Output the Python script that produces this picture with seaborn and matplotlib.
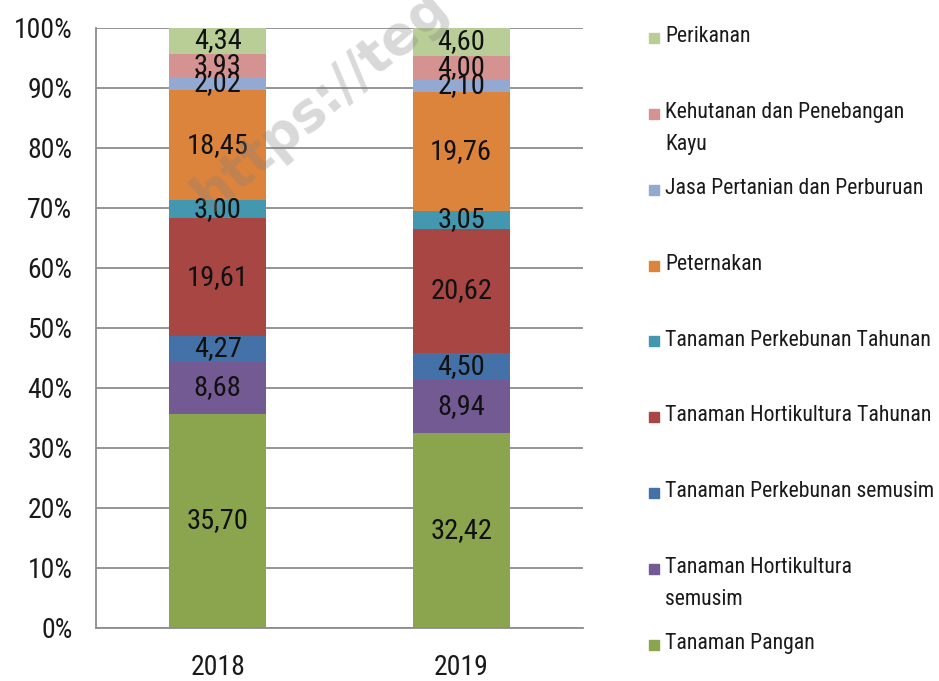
import numpy as np
import matplotlib.pyplot as plt
import seaborn as sns
from matplotlib.patches import Rectangle
from matplotlib.ticker import PercentFormatter

# Data (share of agriculture sub-sectors, %)
years = ['2018', '2019']
series = ['Tanaman Pangan', 'Tanaman Hortikultura\nsemusim', 'Tanaman Perkebunan semusim',
          'Tanaman Hortikultura Tahunan', 'Tanaman Perkebunan Tahunan', 'Peternakan',
          'Jasa Pertanian dan Perburuan', 'Kehutanan dan Penebangan\nKayu', 'Perikanan']
val_2018 = [35.70, 8.68, 4.27, 19.61, 3.00, 18.45, 2.02, 3.93, 4.34]
val_2019 = [32.42, 8.94, 4.50, 20.62, 3.05, 19.76, 2.10, 4.00, 4.60]
colors = ['#8BA54F', '#735A93', '#4472A8', '#A84644', '#4398AF',
          '#DD843C', '#93A9D2', '#D49391', '#B9CE96']

sns.set_style('white')
plt.rcParams['font.family'] = ['Roboto Condensed', 'Lato', 'DejaVu Sans']

fig = plt.figure(figsize=(9.39, 6.81), dpi=100)
ax = fig.add_axes([96 / 939, 1 - 628 / 681, (583 - 96) / 939, 600 / 681])

vals = np.array([val_2018, val_2019])  # shape (years, series)
cum = vals.cumsum(axis=1)

# stacked bars: draw cumulative totals from top down
for i in reversed(range(len(series))):
    sns.barplot(x=years, y=cum[:, i], color=colors[i], width=0.4,
                saturation=1, ax=ax, linewidth=0)

# value labels
for j in range(len(years)):
    for i in range(len(series)):
        mid = cum[j, i] - vals[j, i] / 2
        ax.text(j, mid, f'{vals[j, i]:.2f}'.replace('.', ','),
                ha='center', va='center', fontsize=20.5, color='#111111')

ax.set_ylim(0, 100)
ax.set_xlim(-0.5, 1.5)
ax.set_yticks(np.arange(0, 101, 10))
ax.yaxis.set_major_formatter(PercentFormatter(decimals=0))
ax.yaxis.grid(True, color='#8C8C8C', lw=1.3)
ax.set_axisbelow(True)
for s in ['top', 'right']:
    ax.spines[s].set_visible(False)
for s in ['left', 'bottom']:
    ax.spines[s].set_color('#8C8C8C')
    ax.spines[s].set_linewidth(1.3)
ax.set_xticks([-0.5, 0.5, 1.5], minor=True)
ax.tick_params(axis='x', which='major', length=0, labelsize=20, pad=19, labelcolor='#1a1a1a')
ax.tick_params(axis='x', which='minor', length=8, width=1.3, color='#8C8C8C')
ax.tick_params(axis='y', length=4, width=1.3, color='#8C8C8C', labelsize=20, pad=13,
               labelcolor='#1a1a1a')
ax.set_xlabel('')
ax.set_ylabel('')

# legend, top entry first
step = (645 - 38) / 8
for k, i in enumerate(reversed(range(len(series)))):
    yc = 38 + k * step
    fig.add_artist(Rectangle((649 / 939, 1 - (yc + 5) / 681), 10 / 939, 10 / 681,
                             transform=fig.transFigure, color=colors[i]))
    fig.text(665 / 939, 1 - (yc - 12) / 681, series[i], ha='left', va='top',
             fontsize=15.7, linespacing=1.7, color='#1a1a1a')

# watermark
fig.text(210 / 939, 1 - 214 / 681, 'https://teg', rotation=40, rotation_mode='anchor',
         ha='left', va='baseline', fontsize=38, fontweight='bold',
         family='DejaVu Sans', color='gray', alpha=0.3)

fig.savefig('out.png', dpi=100)
